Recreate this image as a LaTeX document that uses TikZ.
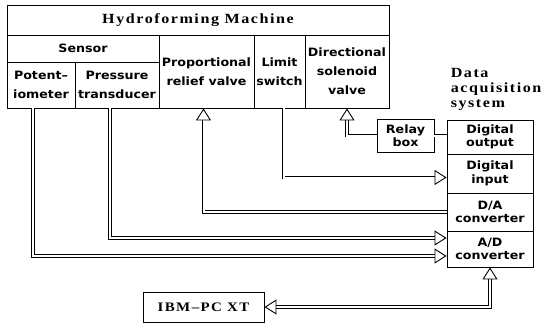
\documentclass[tikz,border=0pt]{standalone}
\usepackage{fontspec}
\usetikzlibrary{arrows.meta}
\newfontfamily\labfont[FakeStretch=1.1]{DejaVu Sans}
\newfontfamily\headfont[FakeStretch=1.15, LetterSpace=11]{Liberation Serif}

\begin{document}
\begin{tikzpicture}[x=1pt, y=-1pt, line width=0.9pt,
    cell/.style={draw, rectangle, inner sep=0pt, align=center,
      font=\labfont\bfseries\fontsize{11.5}{19}\selectfont},
    daq/.style={cell, minimum width=86pt,
      font=\labfont\bfseries\fontsize{11.5}{13.5}\selectfont},
    head/.style={font=\headfont\bfseries\fontsize{14}{15}\selectfont},
    bus/.style={double, double distance=2pt, line width=0.7pt},
    hollow/.style={-{Triangle[open, length=12pt, width=15pt, line width=0.9pt]}},
    hollows/.style={{Triangle[open, length=12pt, width=15pt, line width=0.9pt]}-{Triangle[open, length=12pt, width=15pt, line width=0.9pt]}}]
  \useasboundingbox (0,0) rectangle (545,329);

  \node[cell, head, minimum width=382pt, minimum height=30pt] (machine) at (198,20) {Hydroforming Machine};
  \node[cell, minimum width=152pt, minimum height=27pt] (sensor) at (83,48.5) {Sensor};
  \node[cell, minimum width=68pt, minimum height=46pt] (potent) at (41,85) {Potent–\\iometer};
  \node[cell, minimum width=84pt, minimum height=46pt] (pressure) at (117,85) {Pressure\\transducer};
  \node[cell, minimum width=95pt, minimum height=73pt] (propvalve) at (206.5,71.5) {Proportional\\relief valve};
  \node[cell, minimum width=51pt, minimum height=73pt] (limit) at (279.5,71.5) {Limit\\switch};
  \node[cell, minimum width=84pt, minimum height=73pt] (dirvalve) at (347,71.5) {Directional\\solenoid\\valve};

  \node[head, align=left, anchor=west] (daqname) at (447,89) {Data\\acquisition\\system};
  \node[daq, minimum height=34pt] (dout) at (490,137) {Digital\\output};
  \node[daq, minimum height=39pt] (dinput) at (490,173.5) {Digital\\input};
  \node[daq, minimum height=38pt] (da) at (490,212) {D/A\\converter};
  \node[daq, minimum height=36pt] (ad) at (490,249) {A/D\\converter};
  \node[cell, minimum width=57pt, minimum height=33pt,
    font=\labfont\bfseries\fontsize{11.5}{13.5}\selectfont] (relay) at (405.5,135.5) {Relay\\box};
  \node[draw, head, minimum width=121pt, minimum height=30pt,
    font=\headfont\bfseries\fontsize{13}{15}\selectfont] (ibm) at (203.5,307) {IBM–PC XT};

  \draw[bus, hollow] (relay.west) -| (dirvalve.south);
  \draw[bus] (relay.east) -- (relay.east -| dout.west);
  \draw[bus, hollow] ([xshift=4pt]limit.south) |- ([yshift=-4pt]dinput.west);
  \draw[bus, hollow] (da.west) -| ([xshift=-3pt]propvalve.south);
  \draw[bus, hollow] ([xshift=-7pt]pressure.south) |- ([yshift=11pt]ad.west);
  \draw[bus, hollow] ([xshift=-8pt]potent.south) |- ([yshift=-7pt]ad.west);
  \draw[bus, hollows] (ibm.east) -| (ad.south);
\end{tikzpicture}
\end{document}
